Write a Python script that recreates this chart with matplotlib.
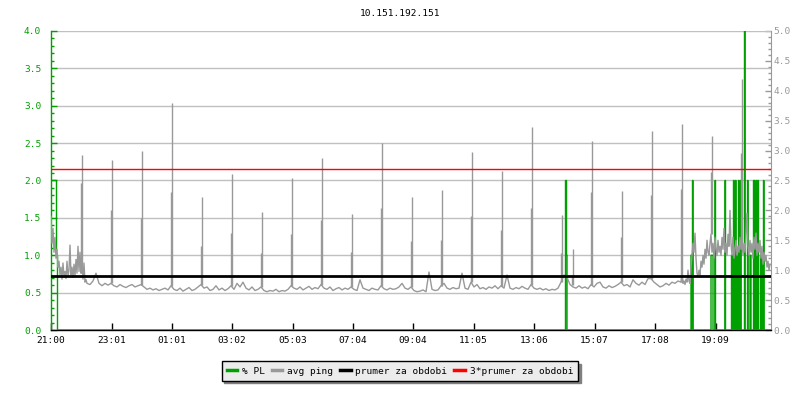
import numpy as np
import matplotlib
matplotlib.use("Agg")
import matplotlib.pyplot as plt
from matplotlib.lines import Line2D
from matplotlib.ticker import FixedLocator

# ---------------- data ----------------
title = "10.151.192.151"
tick_labels = ['21:00', '23:01', '01:01', '03:02', '05:03', '07:04',
               '09:04', '11:05', '13:06', '15:07', '17:08', '19:09']
legend_labels = ['% PL', 'avg ping', 'prumer za obdobi', '3*prumer za obdobi']

# avg ping (right axis units). Minutes are counted from 21:00.
# 21:00-22:10, one value every 2 minutes
ping_head_start, ping_head_step = 0, 2
ping_head = [
    1.90, 1.45, 1.70, 1.30, 1.55, 1.20, 1.35, 1.05, 1.15, 0.92,
    1.05, 0.85, 1.12, 0.88, 0.98, 0.86, 1.15, 0.90, 1.00, 1.42,
    0.92, 1.05, 0.88, 1.10, 0.90, 1.18, 0.95, 1.40, 0.98, 1.30,
    0.95, 1.08, 0.85, 1.12, 0.80, 0.84,
]
# 22:12-17:54, one value every 6 minutes
ping_mid_start, ping_mid_step = 72, 6
ping_mid = [
    0.78, 0.76, 0.82, 0.95, 0.78, 0.74, 0.78, 0.75,
    0.78, 0.74, 0.72, 0.76, 0.73, 0.71, 0.74, 0.76, 0.72, 0.74,
    0.76, 0.72, 0.68, 0.70, 0.67, 0.69, 0.66, 0.68, 0.70, 0.67,
    0.74, 0.68, 0.66, 0.70, 0.65, 0.68, 0.71, 0.66, 0.68, 0.72,
    0.76, 0.70, 0.72, 0.66, 0.68, 0.74, 0.67, 0.70, 0.66, 0.69,
    0.74, 0.68, 0.78, 0.72, 0.80, 0.70, 0.67, 0.72, 0.66, 0.68,
    0.72, 0.66, 0.64, 0.66, 0.65, 0.68, 0.64, 0.66, 0.65, 0.68,
    0.74, 0.70, 0.68, 0.72, 0.67, 0.70, 0.73, 0.68, 0.71, 0.69,
    0.76, 0.70, 0.68, 0.72, 0.66, 0.69, 0.71, 0.67, 0.70, 0.68,
    0.72, 0.68, 0.66, 0.84, 0.70, 0.68, 0.66, 0.70, 0.68, 0.67,
    0.74, 0.69, 0.67, 0.70, 0.68, 0.69, 0.72, 0.78, 0.70, 0.68,
    0.72, 0.66, 0.64, 0.65, 0.67, 0.64, 0.97, 0.68, 0.66, 0.67,
    0.74, 0.78, 0.70, 0.68, 0.71, 0.69, 0.70, 0.95, 0.70, 0.68,
    0.80, 0.72, 0.76, 0.69, 0.71, 0.68, 0.72, 0.70, 0.74, 0.69,
    0.74, 0.70, 0.92, 0.70, 0.68, 0.71, 0.69, 0.73, 0.70, 0.68,
    0.76, 0.70, 0.68, 0.70, 0.67, 0.69, 0.66, 0.68, 0.67, 0.70,
    0.80, 0.92, 0.88, 0.76, 0.72, 0.70, 0.74, 0.70, 0.72, 0.69,
    0.76, 0.72, 0.78, 0.80, 0.72, 0.70, 0.74, 0.71, 0.73, 0.76,
    0.80, 0.74, 0.76, 0.72, 0.84, 0.78, 0.75, 0.80, 0.76, 0.86,
    0.86, 0.80, 0.76, 0.72, 0.74, 0.78, 0.75, 0.80, 0.78, 0.82,
]
# 18:00-20:58, one value every 2 minutes
ping_tail_start, ping_tail_step = 1260, 2
ping_tail = [
    0.80, 0.95, 0.78, 0.82, 0.76, 0.85, 0.80, 1.00, 0.82, 0.78,
    1.05, 1.25, 1.45, 1.30, 1.62, 1.20, 0.95, 0.90, 1.00, 0.92,
    1.15, 1.05, 1.25, 1.10, 1.35, 1.20, 1.50, 1.30, 1.25, 1.45,
    1.60, 1.30, 1.45, 1.20, 1.55, 1.35, 1.25, 1.50, 1.30, 1.40,
    1.25, 1.55, 1.35, 1.70, 1.30, 1.45, 1.25, 1.60, 1.40, 2.00,
    1.45, 1.25, 1.55, 1.20, 1.35, 1.50, 1.25, 1.40, 1.30, 1.55,
    1.35, 1.50, 1.25, 1.45, 1.30, 1.60, 1.95, 1.40, 1.25, 1.50,
    1.30, 1.45, 1.20, 1.55, 1.35, 1.62, 1.25, 1.45, 1.30, 1.50,
    1.20, 1.40, 1.10, 1.30, 1.15, 1.25, 1.05, 1.15, 1.00, 1.10,
]

# short ping spikes: minute, peak value, value of the sample just before
spike_minutes = [61, 121, 181, 241, 301, 361, 421, 481, 541, 601, 661, 721,
                 781, 841, 901, 961, 1021, 1043, 1081, 1141, 1201, 1261, 1321, 1381]
spike_peak = [2.93, 2.84, 3.00, 3.79, 2.22, 2.61, 1.97, 2.54, 2.88, 1.94, 3.13, 2.22,
              2.34, 2.98, 2.66, 3.40, 1.92, 1.35, 3.16, 2.32, 3.33, 3.44, 3.24, 4.20]
spike_second = [2.46, 2.00, 1.87, 2.31, 1.40, 1.62, 1.29, 1.60, 1.84, 1.30, 2.04, 1.49,
                1.50, 1.90, 1.67, 2.04, 1.29, 0.90, 2.30, 1.56, 2.26, 2.36, 2.64, 2.96]

# packet loss samples (left axis, %): start minute, value, duration in minutes
pl_minutes = [0, 11, 1029, 1031, 1280, 1283, 1320, 1322, 1328, 1348, 1361, 1365,
              1367, 1369, 1371, 1375, 1379, 1387, 1393, 1398, 1405, 1407, 1409,
              1411, 1414, 1419, 1422, 1425]
pl_values = [2.0, 1.0, 2.0, 1.0, 1.0, 2.0, 1.0, 1.0, 2.0, 2.0, 1.0, 2.0,
             1.0, 2.0, 1.0, 2.0, 2.0, 4.0, 2.0, 1.0, 2.0, 2.0, 1.0,
             2.0, 2.0, 1.0, 1.0, 2.0]
pl_widths = [11, 2, 2, 1, 2, 1, 2, 2, 1, 1, 2, 1,
             1, 1, 2, 1, 1, 1, 1, 2, 1, 1, 1,
             1, 1, 2, 2, 1]

avg_ping = 0.9
avg_ping_x3 = 2.7
right_per_left = 1.25          # right axis (0..5) vs left axis (0..4)
period_min = 1440

# ---------------- style ----------------
plt.rcParams['font.family'] = ['DejaVu Sans Mono']
FS = 6.8
GREEN = '#00a000'
GRAY = '#999999'

fig = plt.figure(figsize=(8, 4), dpi=100)
fig.patch.set_facecolor('white')
ax = fig.add_axes([51 / 800, 70 / 400, 720 / 800, 299 / 400])

# packet loss step line
grid_t = np.arange(0, period_min + 1)
pl = np.zeros(len(grid_t))
for t0, v, w in zip(pl_minutes, pl_values, pl_widths):
    pl[t0:t0 + w] = v
ax.plot(grid_t, pl, drawstyle='steps-post', color=GREEN, lw=1.0, zorder=3)

# avg ping line
pt = np.concatenate([
    ping_head_start + np.arange(len(ping_head)) * ping_head_step,
    ping_mid_start + np.arange(len(ping_mid)) * ping_mid_step,
    ping_tail_start + np.arange(len(ping_tail)) * ping_tail_step,
]).astype(float)
pv = np.concatenate([ping_head, ping_mid, ping_tail]) / right_per_left
ax.plot(pt, pv, color=GRAY, lw=1.0, zorder=4)

# spikes (peak and preceding sample)
sm = np.array(spike_minutes, dtype=float)
idx = np.clip(np.searchsorted(pt, sm, side='right') - 1, 0, len(pv) - 1)
base_at = pv[idx]
ax.vlines(sm, base_at, np.array(spike_peak) / right_per_left, color=GRAY, lw=1.0, zorder=4)
ax.vlines(sm - 1.6, base_at, np.array(spike_second) / right_per_left, color=GRAY, lw=1.0, zorder=4)

ax.axhline(avg_ping / right_per_left, color='black', lw=2.0, zorder=5)
ax.axhline(avg_ping_x3 / right_per_left, color='#ff0000', lw=1.0, zorder=6)

ax.set_xlim(0, period_min)
ax.set_ylim(0, 4)

# x ticks from label times
tick_pos = []
for lab in tick_labels:
    h, m = map(int, lab.split(':'))
    tick_pos.append(((h * 60 + m) - 21 * 60) % 1440)
ax.set_xticks(tick_pos)
ax.set_xticklabels(tick_labels, fontsize=FS)
ax.tick_params(axis='x', direction='in', length=5, width=1, color='black', pad=4)

ax.yaxis.set_major_locator(FixedLocator(np.arange(0, 4.01, 0.5)))
ax.yaxis.set_minor_locator(FixedLocator(np.arange(0, 4.01, 0.1)))
ax.yaxis.set_major_formatter(plt.FuncFormatter(lambda v, p: f"{v:.1f}"))
ax.tick_params(axis='y', which='major', direction='in', length=4.5, width=1,
               color=GREEN, labelcolor=GREEN, labelsize=FS, pad=7)
ax.tick_params(axis='y', which='minor', direction='in', length=2.5, width=1, color=GREEN)

ax.grid(axis='y', which='major', color='#c0c0c0', lw=1)
ax.set_axisbelow(True)

for s in ('top', 'right'):
    ax.spines[s].set_visible(False)
ax.spines['left'].set_color(GREEN)
ax.spines['left'].set_linewidth(1)
ax.spines['bottom'].set_color('black')
ax.spines['bottom'].set_linewidth(1)

sec = ax.secondary_yaxis('right', functions=(lambda y: y * right_per_left,
                                              lambda y: y / right_per_left))
sec.yaxis.set_major_locator(FixedLocator(np.arange(0, 5.01, 0.5)))
sec.yaxis.set_minor_locator(FixedLocator(np.arange(0, 5.01, 0.1)))
sec.yaxis.set_major_formatter(plt.FuncFormatter(lambda v, p: f"{v:.1f}"))
sec.tick_params(axis='y', which='major', direction='in', length=4, width=1,
                color=GRAY, labelcolor=GRAY, labelsize=FS, pad=2)
sec.tick_params(axis='y', which='minor', direction='in', length=2.5, width=1, color=GRAY)
sec.spines['right'].set_color(GRAY)

fig.text(0.5, 1 - 13 / 400, title, ha='center', va='center', fontsize=FS, color='black')

handles = [Line2D([], [], color=c, lw=2.5) for c in (GREEN, GRAY, 'black', '#ff0000')]
leg = fig.legend(handles, legend_labels, loc='center', bbox_to_anchor=(400 / 800, 1 - 371 / 400),
                 ncol=4, frameon=True, fancybox=False,
                 shadow={'color': '#808080', 'alpha': 1.0},
                 edgecolor='black', facecolor='#ececec', framealpha=1,
                 handlelength=1.1, handletextpad=0.5, columnspacing=0.75,
                 borderpad=0.55, prop={'size': FS})
leg.get_frame().set_linewidth(1)

fig.savefig('out.png', dpi=100, facecolor='white')
